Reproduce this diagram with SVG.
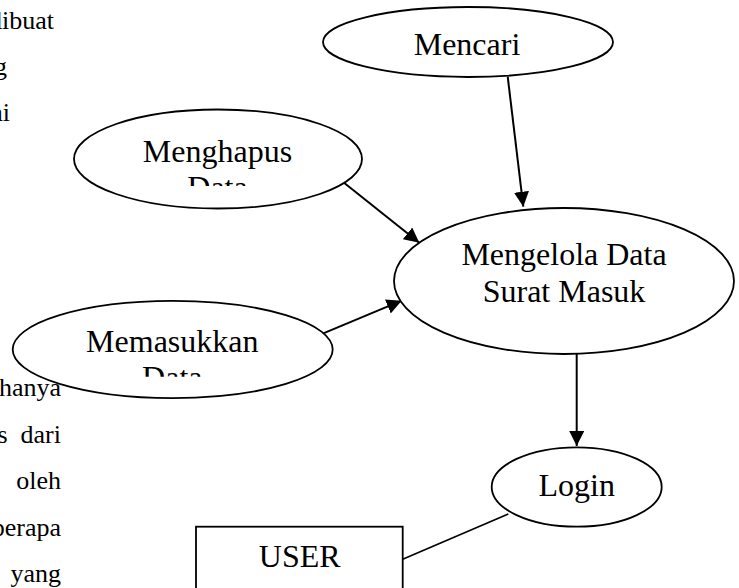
<svg xmlns="http://www.w3.org/2000/svg" width="739" height="588" viewBox="0 0 739 588">
<style>
.n{fill:#fff;stroke:#000;stroke-width:1.8}
.t{font-family:"Liberation Serif","Times New Roman",serif;font-size:32px;fill:#000;text-anchor:middle}
.d{font-family:"Liberation Serif","Times New Roman",serif;font-size:26px;fill:#000;text-anchor:end}
.c{stroke:#000;stroke-width:2;fill:none}
</style>
<defs>
<marker id="ah" markerUnits="userSpaceOnUse" markerWidth="16" markerHeight="16" viewBox="0 0 16 16" refX="15" refY="7.5" orient="auto">
<path d="M0,0 L15,7.5 L0,15 Z" fill="#000"/>
</marker>
<clipPath id="clipA"><rect x="0" y="100" width="400" height="86"/></clipPath>
<clipPath id="clipB"><rect x="0" y="290" width="400" height="86.7"/></clipPath>
</defs>
<rect width="739" height="588" fill="#fff"/>
<g id="connectors">
<line class="c" x1="507.7" y1="76.7" x2="523.3" y2="206.7" marker-end="url(#ah)"/>
<line class="c" x1="344" y1="182.7" x2="419.3" y2="242.7" marker-end="url(#ah)"/>
<line class="c" x1="323.3" y1="333.3" x2="401.7" y2="300.7" marker-end="url(#ah)"/>
<line class="c" x1="576.7" y1="354" x2="576.7" y2="446" marker-end="url(#ah)"/>
<line class="c" style="stroke-width:1.6" x1="402.7" y1="559.3" x2="508.3" y2="514"/>
</g>
<g id="mencari">
<ellipse class="n" cx="468" cy="42" rx="145" ry="35"/>
<text class="t" x="467" y="55">Mencari</text>
</g>
<g id="menghapus">
<ellipse class="n" cx="218" cy="159" rx="144" ry="49.5"/>
<text class="t" x="217.5" y="161.7">Menghapus</text>
<text class="t" x="217.5" y="198.4" clip-path="url(#clipA)">Data</text>
</g>
<g id="memasukkan">
<ellipse class="n" cx="172.7" cy="349.5" rx="160" ry="48.6"/>
<text class="t" x="172.3" y="351.7">Memasukkan</text>
<text class="t" x="172.3" y="388.4" clip-path="url(#clipB)">Data</text>
</g>
<g id="mengelola">
<ellipse class="n" cx="564" cy="281" rx="170" ry="73"/>
<text class="t" x="564" y="265">Mengelola Data</text>
<text class="t" x="564" y="301.7">Surat Masuk</text>
</g>
<g id="login">
<ellipse class="n" cx="576.7" cy="487" rx="85" ry="39.7"/>
<text class="t" x="576.7" y="496">Login</text>
</g>
<g id="user">
<rect class="n" x="196" y="526.7" width="206.7" height="80"/>
<text class="t" x="299.7" y="566.7">USER</text>
</g>
<g id="doc-text">
<text class="d" x="54" y="29">dibuat</text>
<text class="d" x="7" y="75">g</text>
<text class="d" x="10" y="121">ai</text>
<text class="d" x="61" y="396">hanya</text>
<text class="d" x="7.5" y="443">s</text>
<text class="d" x="61" y="443">dari</text>
<text class="d" x="61" y="489">oleh</text>
<text class="d" x="61" y="536">berapa</text>
<text class="d" x="61" y="582">yang</text>
</g>
</svg>
